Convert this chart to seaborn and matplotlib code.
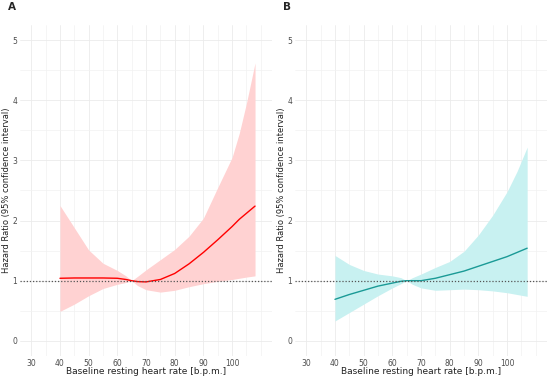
import numpy as np
import pandas as pd
import seaborn as sns
import matplotlib.pyplot as plt
from matplotlib.ticker import MultipleLocator, FixedLocator

# panel A (red)
hr_a = [40, 45, 50, 55, 60, 63, 65, 67, 70, 75, 80, 85, 90, 95, 100, 102.5, 105, 108]
hr_a_mid = [1.04, 1.045, 1.045, 1.045, 1.04, 1.02, 1.0, 0.985, 0.98, 1.02, 1.12, 1.28,
            1.47, 1.68, 1.90, 2.02, 2.12, 2.24]
hr_a_hi = [2.25, 1.88, 1.51, 1.29, 1.17, 1.08, 1.0, 1.07, 1.18, 1.35, 1.52, 1.74,
           2.04, 2.55, 3.05, 3.45, 3.95, 4.62]
hr_a_lo = [0.49, 0.61, 0.75, 0.87, 0.94, 0.97, 1.0, 0.92, 0.85, 0.81, 0.84, 0.90,
           0.95, 0.99, 1.02, 1.04, 1.06, 1.08]

# panel B (teal)
hr_b = [40, 45, 50, 55, 60, 63, 65, 67, 70, 75, 80, 85, 90, 95, 100, 103.5, 107]
hr_b_mid = [0.69, 0.77, 0.84, 0.91, 0.96, 0.99, 1.0, 1.0, 1.0, 1.04, 1.10, 1.16,
            1.24, 1.32, 1.40, 1.47, 1.54]
hr_b_hi = [1.42, 1.27, 1.17, 1.11, 1.08, 1.05, 1.0, 1.05, 1.11, 1.22, 1.32, 1.49,
           1.76, 2.09, 2.48, 2.82, 3.22]
hr_b_lo = [0.33, 0.47, 0.61, 0.75, 0.88, 0.95, 1.0, 0.94, 0.88, 0.84, 0.85, 0.86,
           0.85, 0.83, 0.80, 0.77, 0.74]

x_ticks = [30, 40, 50, 60, 70, 80, 90, 100]
y_ticks = [0, 1, 2, 3, 4, 5]

sns.set_theme(style="white")
plt.rcParams['font.family'] = ['DejaVu Sans']

fig = plt.figure(figsize=(5.5, 3.79), dpi=100)
ax_a = fig.add_axes([0.036, 0.061, 0.459, 0.873])
ax_b = fig.add_axes([0.536, 0.061, 0.459, 0.873])

panels = [
    (ax_a, "A", hr_a, hr_a_mid, hr_a_lo, hr_a_hi, "#ff0000", "#ffd2d2"),
    (ax_b, "B", hr_b, hr_b_mid, hr_b_lo, hr_b_hi, "#1a9a96", "#c8f1f1"),
]

for ax, tag, x, mid, lo, hi, lc, fc in panels:
    df = pd.DataFrame({"hr": x, "mid": mid, "lo": lo, "hi": hi})
    ax.fill_between(df["hr"], df["lo"], df["hi"], color=fc, lw=0, zorder=2)
    sns.lineplot(data=df, x="hr", y="mid", ax=ax, color=lc, lw=1.0, zorder=3)
    ax.axhline(1, color="#555555", ls=(0, (1, 1.5)), lw=0.9, zorder=4)

    ax.set_xlim(26, 114)
    ax.set_ylim(-0.25, 5.25)
    ax.xaxis.set_major_locator(FixedLocator(x_ticks))
    ax.xaxis.set_minor_locator(FixedLocator([35, 45, 55, 65, 75, 85, 95, 105, 110]))
    ax.yaxis.set_major_locator(FixedLocator(y_ticks))
    ax.yaxis.set_minor_locator(MultipleLocator(0.5))
    ax.grid(True, which="major", color="#ebebeb", lw=0.6, zorder=0)
    ax.grid(True, which="minor", color="#f2f2f2", lw=0.5, zorder=0)
    for s in ax.spines.values():
        s.set_visible(False)
    ax.tick_params(axis="both", which="both", length=0, labelsize=5.5,
                   labelcolor="#4d4d4d", pad=2)
    ax.set_xlabel("")
    ax.set_ylabel("")

    # panel tag, axis titles placed in figure coords
    pos = ax.get_position()
    fig.text(pos.x0 - 0.022, 0.982, tag, fontsize=7.5, fontweight="bold",
             ha="left", va="center")
    fig.text((pos.x0 + pos.x1) / 2, 0.019, "Baseline resting heart rate [b.p.m.]",
             fontsize=6.5, color="#222222", ha="center", va="center")
    fig.text(pos.x0 - 0.025, (pos.y0 + pos.y1) / 2,
             "Hazard Ratio (95% confidence interval)", fontsize=6,
             color="#222222", ha="center", va="center", rotation=90)

fig.savefig("out.png", dpi=100)
